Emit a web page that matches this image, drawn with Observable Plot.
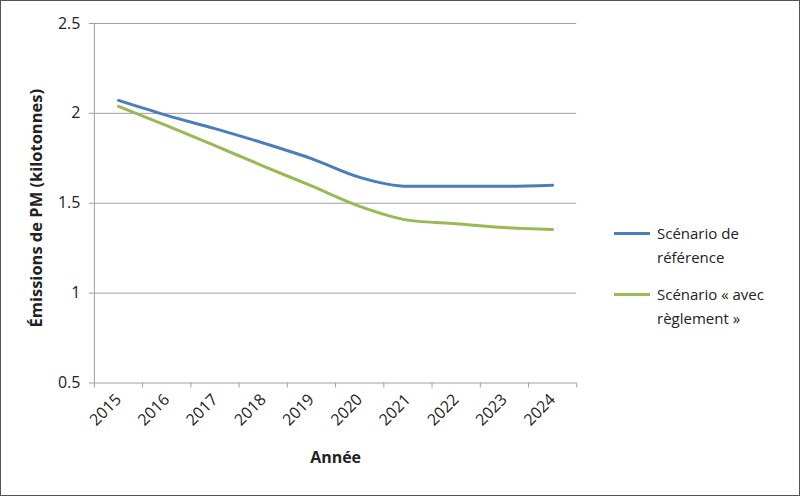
<!DOCTYPE html>
<html>
<head>
<meta charset="utf-8">
<script src="https://cdn.jsdelivr.net/npm/d3@7"></script>
<script src="https://cdn.jsdelivr.net/npm/@observablehq/plot@0.6"></script>
<style>
  html, body { margin: 0; padding: 0; background: #fff; }
  #wrap { position: relative; width: 800px; height: 496px; box-sizing: border-box; border: 1px solid #555; overflow: hidden; font-family: "Open Sans", sans-serif; }
  #chart { position: absolute; left: -1px; top: -1px; }
  .leg { position: absolute; font-size: 15px; color: #222; line-height: 24px; }
  .sw { position: absolute; width: 36px; height: 3px; }
</style>
</head>
<body>
<div id="wrap">
  <div id="chart"></div>
  <div id="legend"></div>
</div>
<script>
const years = [2015, 2016, 2017, 2018, 2019, 2020, 2021, 2022, 2023, 2024];
const reference = [2.072, 1.989, 1.915, 1.835, 1.748, 1.644, 1.594, 1.594, 1.594, 1.600];
const withRule = [2.039, 1.932, 1.820, 1.707, 1.596, 1.483, 1.406, 1.386, 1.365, 1.354];
const seriesNames = ["Scénario de référence", "Scénario « avec règlement »"];
const legendLines = [["Scénario de", "référence"], ["Scénario « avec", "règlement »"]];
const colors = ["#4a7ebb", "#98b954"];
const yTicks = [0.5, 1, 1.5, 2, 2.5];

const data = [];
years.forEach((yr, i) => {
  data.push({year: yr, value: reference[i], series: seriesNames[0]});
  data.push({year: yr, value: withRule[i], series: seriesNames[1]});
});
const boundaries = years.map(y => y - 0.5).concat([years[years.length - 1] + 0.5]);

const plot = Plot.plot({
  width: 800,
  height: 496,
  marginLeft: 94,
  marginRight: 223,
  marginTop: 23,
  marginBottom: 113,
  style: {fontFamily: "Open Sans, sans-serif", fontSize: "15px", color: "#222", background: "transparent"},
  x: {type: "linear", domain: [boundaries[0], boundaries[boundaries.length - 1]]},
  y: {domain: [0.5, 2.5]},
  color: {domain: seriesNames, range: colors},
  marks: [
    Plot.gridY(yTicks, {stroke: "#a0a0a0", strokeOpacity: 1, strokeWidth: 1}),
    Plot.ruleX([boundaries[0]], {stroke: "#a0a0a0"}),
    Plot.axisY({ticks: yTicks, tickFormat: d => String(d), tickSize: 5, stroke: "#a0a0a0", tickPadding: 9, fontSize: 16, label: null}),
    Plot.axisX({ticks: boundaries, tickFormat: () => "", tickSize: 5, stroke: "#a0a0a0", label: null}),
    Plot.axisX({ticks: years, tickFormat: d => String(d), tickSize: 0, tickRotate: -45, tickPadding: 14, fontSize: 16, label: null}),
    Plot.line(data, {x: "year", y: "value", stroke: "series", z: "series", strokeWidth: 3, curve: "monotone-x"}),
    Plot.text(["Année"], {frameAnchor: "bottom", dy: 80, fontWeight: "bold", fontSize: 16}),
    Plot.text(["Émissions de PM (kilotonnes)"], {frameAnchor: "left", dx: -58, dy: 5, rotate: -90, textAnchor: "middle", fontWeight: "bold", fontSize: 16.5})
  ]
});
document.getElementById("chart").appendChild(plot);

const legend = document.getElementById("legend");
const legTops = [220, 281];
legendLines.forEach((lines, i) => {
  const sw = document.createElement("div");
  sw.className = "sw";
  sw.style.left = "613px";
  sw.style.top = (legTops[i] + 11) + "px";
  sw.style.background = colors[i];
  legend.appendChild(sw);
  const t = document.createElement("div");
  t.className = "leg";
  t.style.left = "656px";
  t.style.top = legTops[i] + "px";
  t.innerHTML = lines.join("<br>");
  legend.appendChild(t);
});
</script>
</body>
</html>
